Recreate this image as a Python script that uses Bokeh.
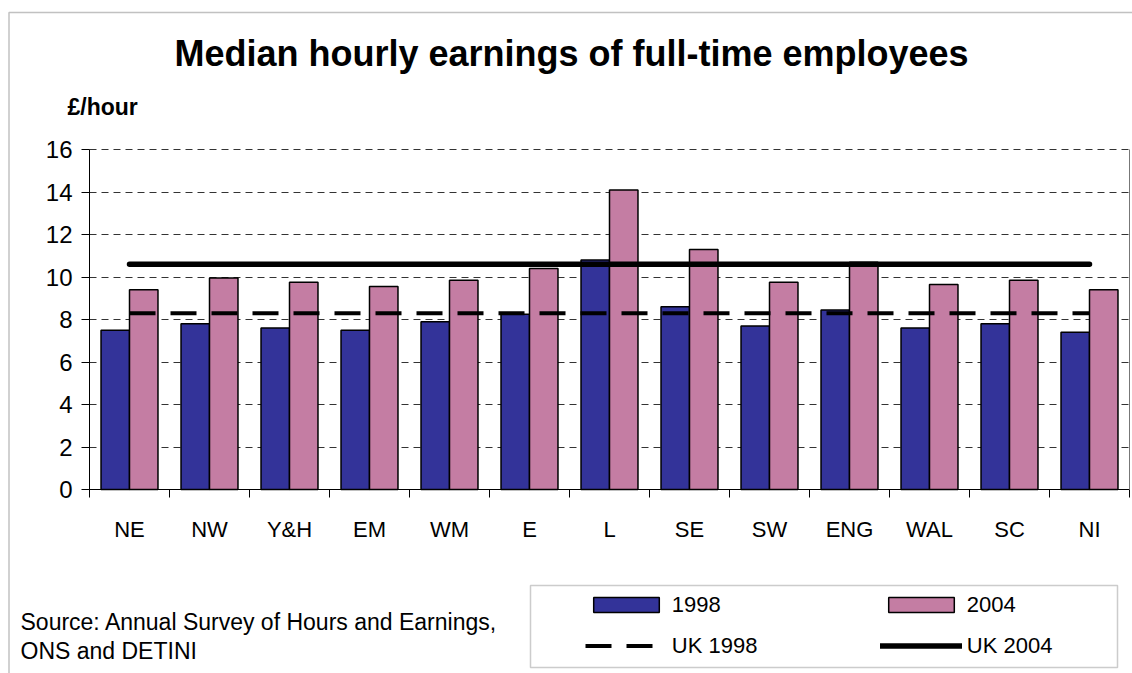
from bokeh.plotting import figure
from bokeh.models import (Range1d, FixedTicker, LinearAxis, Grid, CustomJSTickFormatter,
                          Legend, LegendItem, Label, BoxAnnotation, ColumnDataSource)
from bokeh.transform import dodge
from bokeh.embed import file_html
from bokeh.resources import INLINE

# ---- data ----
regions = ["NE", "NW", "Y&H", "EM", "WM", "E", "L", "SE", "SW", "ENG", "WAL", "SC", "NI"]
earn_1998 = [7.5, 7.8, 7.6, 7.5, 7.9, 8.25, 10.8, 8.6, 7.7, 8.45, 7.6, 7.8, 7.4]
earn_2004 = [9.4, 9.95, 9.75, 9.55, 9.85, 10.4, 14.1, 11.3, 9.75, 10.7, 9.65, 9.85, 9.4]
uk_1998 = 8.3
uk_2004 = 10.6
y_ticks = [0, 2, 4, 6, 8, 10, 12, 14, 16]
y_min, y_max = 0, 16
title_text = "Median hourly earnings of full-time employees"
unit_text = "£/hour"
source_lines = ["Source: Annual Survey of Hours and Earnings,", "ONS and DETINI"]

FONT = "Liberation Sans"

# ---- page geometry (pixels) ----
W, H = 1132, 673
PL, PR, PT, PB = 89, 1129, 149, 489          # plot-area edges on the canvas

n = len(regions)
px_x = (PR - PL) / n
px_y = (PB - PT) / (y_max - y_min)
x_range = Range1d(-PL / px_x, n + (W - PR) / px_x)
y_range = Range1d(y_min - (H - PB) / px_y, y_max + PT / px_y)

centres = [i + 0.5 for i in range(n)]
src = ColumnDataSource(dict(
    xc=centres, y1998=earn_1998, y2004=earn_2004,
    uk98=[uk_1998] * n, uk04=[uk_2004] * n))

p = figure(width=W, height=H, x_range=x_range, y_range=y_range,
           output_backend="svg", toolbar_location=None,
           x_axis_location=None, y_axis_location=None,
           min_border_left=0, min_border_right=0, min_border_top=0, min_border_bottom=0,
           background_fill_color="white", border_fill_color="white")
p.outline_line_color = None
p.grid.visible = False

bw = 0.356
r1 = p.vbar(x=dodge("xc", -bw / 2), top="y1998", bottom=y_min, width=bw, source=src,
            fill_color="#333399", line_color="black", line_width=1.5)
r2 = p.vbar(x=dodge("xc", bw / 2), top="y2004", bottom=y_min, width=bw, source=src,
            fill_color="#C47DA3", line_color="black", line_width=1.5)
l98 = p.line(x="xc", y="uk98", source=src, line_color="black", line_width=4, line_dash="26 15")
l04 = p.line(x="xc", y="uk04", source=src, line_color="black", line_width=5.5, line_cap="round")

# horizontal dashed grid limited to the plot area
ygrid = Grid(dimension=1, ticker=FixedTicker(ticks=y_ticks), bounds=(y_min, y_max),
             cross_bounds=(0, n), grid_line_color="#333333", grid_line_dash="7 5",
             grid_line_width=1)
p.add_layout(ygrid)

# y axis
ya = LinearAxis(fixed_location=0, bounds=(y_min, y_max), ticker=FixedTicker(ticks=y_ticks),
                major_tick_out=8, major_tick_in=0, minor_tick_line_color=None,
                axis_line_color="black", major_tick_line_color="black",
                major_label_text_font=FONT, major_label_text_font_size="24px",
                major_label_text_color="black", major_label_standoff=9)
p.add_layout(ya, "left")

# right border of the plot area
rb = LinearAxis(fixed_location=n, bounds=(y_min, y_max), ticker=FixedTicker(ticks=[]),
                major_tick_line_color=None, minor_tick_line_color=None,
                major_label_text_font_size="0px", axis_line_color="#777777", axis_line_width=1)
p.add_layout(rb, "right")

# x axis: ticks at category boundaries ...
xa_ticks = LinearAxis(fixed_location=y_min, bounds=(0, n),
                      ticker=FixedTicker(ticks=list(range(n + 1))),
                      major_tick_out=8, major_tick_in=0, minor_tick_line_color=None,
                      major_label_text_font_size="0px", major_label_standoff=0,
                      formatter=CustomJSTickFormatter(code="return ''"),
                      axis_line_color="black", major_tick_line_color="black")
p.add_layout(xa_ticks, "below")
# ... and region names at category centres
xa_labels = LinearAxis(fixed_location=y_min, bounds=(0, n), ticker=FixedTicker(ticks=centres),
                       major_tick_out=0, major_tick_in=0, major_tick_line_color=None,
                       minor_tick_line_color=None, axis_line_color=None,
                       formatter=CustomJSTickFormatter(args=dict(names=regions),
                                                       code="return names[Math.floor(tick)]"),
                       major_label_text_font=FONT, major_label_text_font_size="22px",
                       major_label_text_color="black", major_label_standoff=27)
p.add_layout(xa_labels, "below")

# titles and notes (screen units: x from left, y up from bottom of canvas)
p.add_layout(Label(x=571, y=H - 53, x_units="screen", y_units="screen", text=title_text,
                   text_align="center", text_baseline="middle", text_font=FONT,
                   text_font_size="36px", text_font_style="bold", text_color="black"))
p.add_layout(Label(x=67, y=H - 106, x_units="screen", y_units="screen", text=unit_text,
                   text_align="left", text_baseline="middle", text_font=FONT,
                   text_font_size="23px", text_font_style="bold", text_color="black"))
for i, line in enumerate(source_lines):
    p.add_layout(Label(x=20, y=H - 621 - 29 * i, x_units="screen", y_units="screen", text=line,
                       text_align="left", text_baseline="middle", text_font=FONT,
                       text_font_size="23px", text_color="black"))

# boxes (legend frame, outer chart frame)
p.add_layout(BoxAnnotation(left=530, right=1117, bottom=H - 667, top=H - 585,
                           left_units="screen", right_units="screen",
                           top_units="screen", bottom_units="screen",
                           fill_color=None, fill_alpha=0, line_color="#555555", line_width=1.5,
                           level="overlay"))
p.add_layout(BoxAnnotation(left=8.5, right=W + 100, bottom=-100, top=H - 12,
                           left_units="screen", right_units="screen",
                           top_units="screen", bottom_units="screen",
                           fill_color=None, fill_alpha=0, line_color="#333333", line_width=1.5,
                           level="overlay"))

legend = Legend(items=[LegendItem(label="1998", renderers=[r1]),
                       LegendItem(label="2004", renderers=[r2]),
                       LegendItem(label="UK 1998", renderers=[l98]),
                       LegendItem(label="UK 2004", renderers=[l04])],
                location=(579.8, H - 663.5), orientation="horizontal", ncols=2,
                glyph_width=82, glyph_height=19, label_standoff=5, label_width=193,
                label_height=19, spacing=15, padding=5, margin=0,
                label_text_font=FONT, label_text_font_size="22px", label_text_color="black",
                border_line_alpha=0, background_fill_alpha=0)
p.add_layout(legend, "center")

open("out.html", "w").write(file_html(p, INLINE))
